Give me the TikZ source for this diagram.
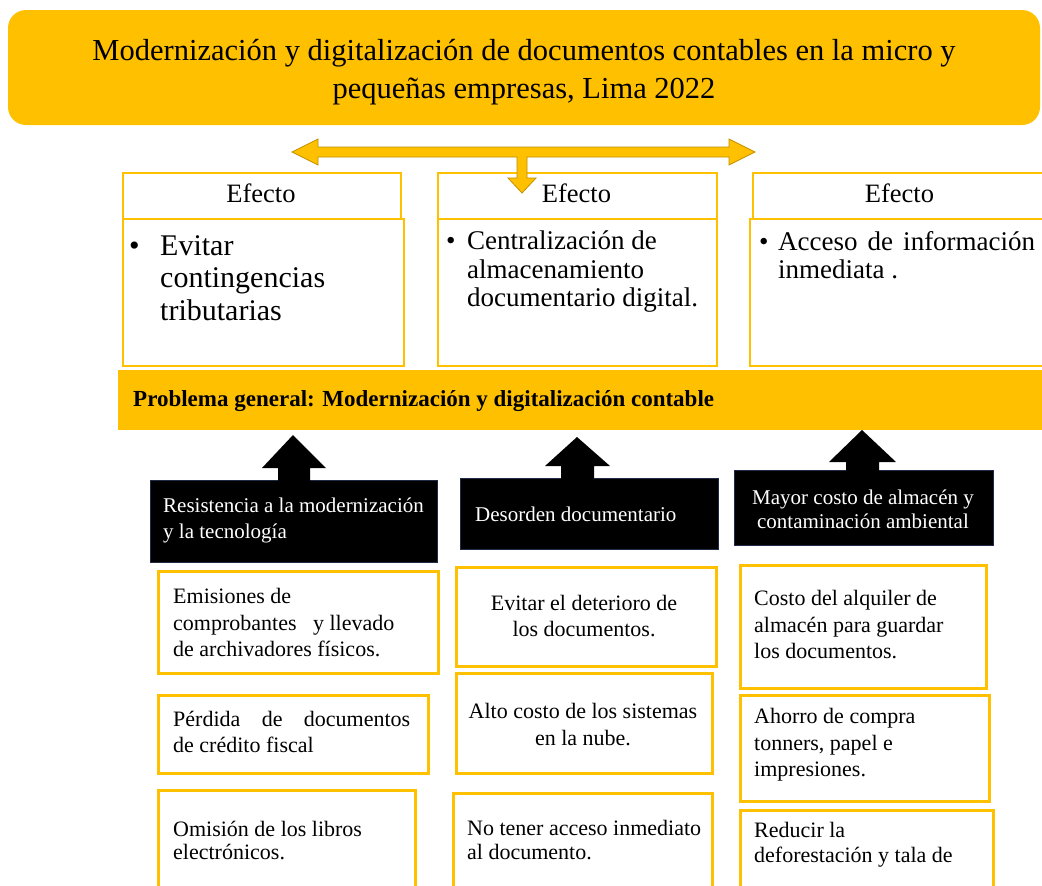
\documentclass[tikz,border=0pt]{standalone}
\usepackage{fontspec}
\setmainfont{Liberation Serif}
\definecolor{gold}{HTML}{FFC000}
\definecolor{golddark}{HTML}{BF9000}
\definecolor{navy}{HTML}{1F2A44}
\tikzset{
  titlebox/.style={fill=gold, rounded corners=18pt, inner sep=0pt},
  effhead/.style={draw=gold, line width=1.6pt, fill=white, inner sep=0pt, anchor=north west},
  effbody/.style={draw=gold, line width=1.6pt, fill=white, inner sep=0pt, anchor=north west},
  band/.style={fill=gold, inner sep=0pt, anchor=north west},
  blackbox/.style={fill=black, draw=navy, line width=1pt, inner sep=0pt, anchor=north west},
  causebox/.style={draw=gold, line width=3.2pt, fill=white, inner sep=0pt, anchor=north west},
  efftxt/.style={inner sep=0pt, anchor=north west, align=left},
  headtxt/.style={inner sep=0pt, font=\fontsize{26.5}{30}\selectfont},
  wtxt/.style={inner sep=0pt, text=white, font=\fontsize{21}{26}\selectfont},
  ctxt/.style={inner sep=0pt, font=\fontsize{22}{26.5}\selectfont},
}
\begin{document}
\begin{tikzpicture}[x=1pt,y=-1pt]
\useasboundingbox (0,0) rectangle (1042,886);
\fill[white] (0,0) rectangle (1042,886);

% title
\node[titlebox, minimum width=1032pt, minimum height=115pt] (title) at (524,67.5) {};
\node[inner sep=0pt, align=center, font=\fontsize{30.5}{38}\selectfont] (titlet) at (524,72)
  {Modernización y digitalización de documentos contables en la micro y\\pequeñas empresas, Lima 2022};

% effect headers
\node[effhead, minimum width=278pt, minimum height=46pt] (h1) at (122,172) {};
\node[effhead, minimum width=279pt, minimum height=46pt] (h2) at (437,172) {};
\node[effhead, minimum width=295pt, minimum height=46pt] (h3) at (752,172) {};
\node[headtxt] (h1t) at (261,193) {Efecto};
\node[headtxt] (h2t) at (576.5,193) {Efecto};
\node[headtxt] (h3t) at (899.5,193) {Efecto};

% gold double arrow with stem
\draw[fill=gold, draw=golddark, line width=0.8pt, line join=miter]
  (292,152) -- (318,139) -- (318,147) -- (729,147) -- (729,139) -- (755,152) -- (729,165) -- (729,157)
  -- (527,157) -- (527,178) -- (536,178) -- (522,193) -- (508,178) -- (517,178) -- (517,157)
  -- (318,157) -- (318,165) -- cycle;

% effect bodies
\node[effbody, minimum width=281pt, minimum height=147pt] (e1) at (122,218) {};
\node[effbody, minimum width=279pt, minimum height=147pt] (e2) at (437,218) {};
\node[effbody, minimum width=296pt, minimum height=147pt] (e3) at (749,218) {};

\node[efftxt, font=\fontsize{30}{32.5}\selectfont] (e1b) at (129,235) {•\vphantom{Evitar}};
\node[efftxt, font=\fontsize{30}{32.5}\selectfont] (e1t) at (160,235) {Evitar\\contingencias\\tributarias};
\node[efftxt, font=\fontsize{27}{28.5}\selectfont] (e2b) at (446,231) {•\vphantom{Centralización de}};
\node[efftxt, font=\fontsize{27}{28.5}\selectfont] (e2t) at (467,231) {Centralización de\\almacenamiento\\documentario digital.};
\node[efftxt, font=\fontsize{27}{28.5}\selectfont] (e3b) at (759,231) {•\vphantom{Acceso de información}};
\node[efftxt, font=\fontsize{27}{28.5}\selectfont] (e3t) at (778,231) {\makebox[257pt][s]{Acceso de información}\\inmediata .};

% problem band
\node[band, minimum width=924pt, minimum height=60pt] (prob) at (118,370) {};
\node[inner sep=0pt, anchor=west, font=\bfseries\fontsize{23}{26}\selectfont] (probt) at (133,401)
  {Problema general: Modernización y digitalización contable};

% black boxes
\node[blackbox, minimum width=287pt, minimum height=82pt] (b1) at (150,480) {};
\node[blackbox, minimum width=258pt, minimum height=71pt] (b2) at (460,478) {};
\node[blackbox, minimum width=259pt, minimum height=75pt] (b3) at (734,470) {};

% black up arrows
\fill[black] (293,435) -- (326,468) -- (310,468) -- (310,482) -- (278,482) -- (278,468) -- (262,468) -- cycle;
\fill[black] (577,437) -- (610,466) -- (594,466) -- (594,480) -- (561,480) -- (561,466) -- (545,466) -- cycle;
\fill[black] (862,430) -- (896,462) -- (879,462) -- (879,472) -- (846,472) -- (846,462) -- (829,462) -- cycle;

\node[wtxt, anchor=west, align=left] (b1t) at (163,520) {Resistencia a la modernización\\y la tecnología};
\node[wtxt, anchor=west] (b2t) at (475,514) {Desorden documentario};
\node[wtxt, align=center, font=\fontsize{21}{24}\selectfont] (b3t) at (863,509) {Mayor costo de almacén y\\contaminación ambiental};

% cause boxes
\node[causebox, minimum width=280pt, minimum height=102pt] (c1a) at (157,570) {};
\node[causebox, minimum width=270pt, minimum height=78pt] (c1b) at (157,694) {};
\node[causebox, minimum width=257pt, minimum height=110pt] (c1c) at (157,789) {};
\node[causebox, minimum width=260pt, minimum height=99pt] (c2a) at (455,566) {};
\node[causebox, minimum width=256pt, minimum height=100pt] (c2b) at (455,672) {};
\node[causebox, minimum width=259pt, minimum height=110pt] (c2c) at (452,792) {};
\node[causebox, minimum width=246pt, minimum height=123pt] (c3a) at (739,564) {};
\node[causebox, minimum width=249pt, minimum height=106pt] (c3b) at (739,694) {};
\node[causebox, minimum width=253pt, minimum height=110pt] (c3c) at (739,809) {};

\node[ctxt, anchor=west, align=left] (c1at) at (173,623) {Emisiones de\\comprobantes \ \ y llevado\\de archivadores físicos.};
\node[ctxt, anchor=west, align=left] (c1bt) at (173,732) {\makebox[237pt][s]{Pérdida de documentos}\\de crédito fiscal};
\node[ctxt, anchor=west, align=left, font=\fontsize{22}{23.5}\selectfont] (c1ct) at (173,840.5) {Omisión de los libros\\electrónicos.};
\node[ctxt, align=center] (c2at) at (584,616) {Evitar el deterioro de\\los documentos.};
\node[ctxt, align=center] (c2bt) at (583,724.5) {Alto costo de los sistemas\\en la nube.};
\node[ctxt, anchor=west, align=left, font=\fontsize{22}{24}\selectfont] (c2ct) at (467,840) {No tener acceso inmediato\\al documento.};
\node[ctxt, anchor=west, align=left] (c3at) at (754,625) {Costo del alquiler de\\almacén para guardar\\los documentos.};
\node[ctxt, anchor=west, align=left] (c3bt) at (754,745) {Ahorro de compra\\tonners, papel e\\impresiones.};
\node[ctxt, anchor=west, align=left, font=\fontsize{22}{25}\selectfont] (c3ct) at (754,844.5) {Reducir la\\deforestación y tala de};
\end{tikzpicture}
\end{document}
